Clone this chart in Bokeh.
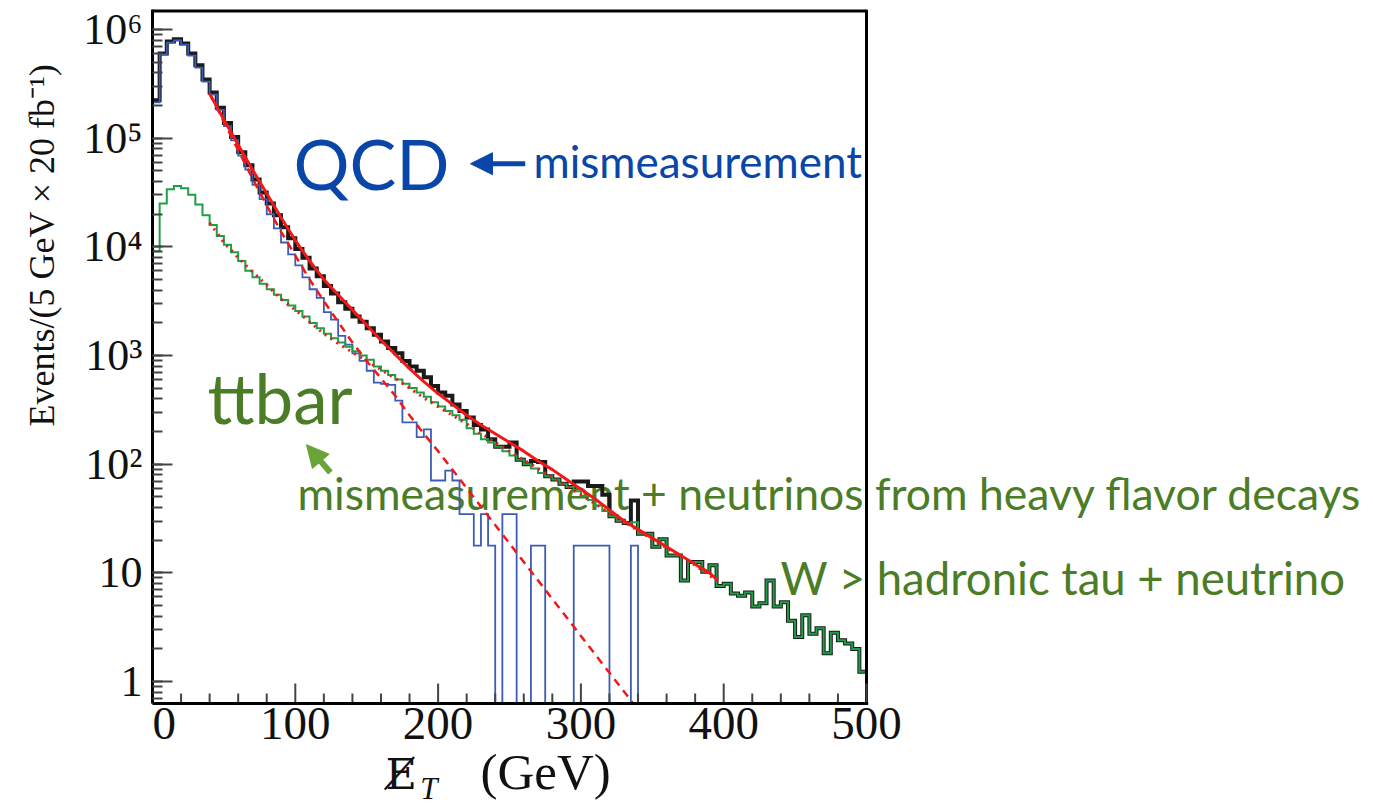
import numpy as np
from bokeh.plotting import figure
from bokeh.models import Range1d, LogTicker, Label, Arrow, NormalHead, Title
from bokeh.embed import file_html
from bokeh.resources import INLINE

# ---------------- data ----------------
BIN_WIDTH = 5  # GeV
edges = np.arange(0, 500 + BIN_WIDTH, BIN_WIDTH)

# log10(events per bin), 100 bins of 5 GeV
total_log10 = [
    5.35, 5.78, 5.89, 5.91, 5.87, 5.78, 5.67, 5.54, 5.42, 5.28,
    5.14, 5.01, 4.87, 4.75, 4.62, 4.50, 4.40, 4.29, 4.18, 4.08,
    3.98, 3.90, 3.80, 3.73, 3.64, 3.57, 3.49, 3.43, 3.36, 3.31,
    3.25, 3.19, 3.13, 3.07, 3.02, 2.95, 2.90, 2.86, 2.80, 2.72,
    2.66, 2.63, 2.55, 2.49, 2.43, 2.36, 2.32, 2.23, 2.16, 2.16,
    2.20, 2.04, 2.00, 2.03, 2.02, 1.89, 1.86, 1.82, 1.79, 1.84,
    1.84, 1.80, 1.80, 1.72, 1.52, 1.48, 1.46, 1.665, 1.36, 1.36,
    1.24, 1.31, 1.16, 1.16, 0.93, 1.10, 1.10, 1.01, 1.07, 0.88,
    0.90, 0.81, 0.79, 0.82, 0.69, 0.72, 0.93, 0.69, 0.73, 0.56,
    0.41, 0.61, 0.44, 0.49, 0.26, 0.45, 0.38, 0.35, 0.30, 0.09,
]

# QCD (blue); None = empty bin
qcd_log10 = [
    5.33, 5.77, 5.88, 5.90, 5.86, 5.76, 5.65, 5.52, 5.40, 5.26,
    5.11, 4.98, 4.84, 4.71, 4.57, 4.44, 4.30, 4.17, 4.04, 3.93,
    3.83, 3.72, 3.61, 3.53, 3.40, 3.33, 3.18, 3.10, 3.02, 2.95,
    2.86, 2.75, 2.74, 2.73, 2.585, 2.385, 2.385, 2.25, 2.32, 1.85,
    1.85, 1.94, 1.85, 1.54, 1.54, 1.25, 1.54, 1.25, None, 1.54,
    1.54, None, None, 1.25, 1.25, None, None, None, None, 1.25,
    1.25, 1.25, 1.25, 1.25, None, None, None, 1.25, None, None,
    None, None, None, None, None, None, None, None, None, None,
    None, None, None, None, None, None, None, None, None, None,
    None, None, None, None, None, None, None, None, None, None,
]

# ttbar + W (green)
ttbar_log10 = [
    3.96, 4.40, 4.53, 4.56, 4.54, 4.48, 4.39, 4.29, 4.20, 4.10,
    4.02, 3.95, 3.87, 3.78, 3.72, 3.66, 3.61, 3.56, 3.51, 3.46,
    3.41, 3.36, 3.30, 3.25, 3.20, 3.16, 3.12, 3.08, 3.04, 3.00,
    2.96, 2.90, 2.86, 2.82, 2.78, 2.74, 2.70, 2.66, 2.62, 2.57,
    2.53, 2.49, 2.45, 2.41, 2.33, 2.28, 2.23, 2.20, 2.16, 2.12,
    2.08, 2.04, 2.00, 1.96, 1.92, 1.89, 1.86, 1.82, 1.79, 1.75,
    1.71, 1.67, 1.62, 1.57, 1.52, 1.48, 1.46, 1.466, 1.36, 1.36,
    1.24, 1.31, 1.16, 1.16, 0.93, 1.10, 1.10, 1.01, 1.07, 0.88,
    0.90, 0.81, 0.79, 0.82, 0.69, 0.72, 0.93, 0.69, 0.73, 0.56,
    0.41, 0.61, 0.44, 0.49, 0.26, 0.45, 0.38, 0.35, 0.30, 0.09,
]

# fitted curves (ET in GeV, log10 events)
fit_total_et = [40, 50, 60, 70, 80, 90, 100, 110, 120, 130, 140, 150, 160, 170, 180,
                190, 200, 210, 220, 230, 240, 250, 260, 270, 280, 290, 300, 310, 320,
                330, 340, 350, 360, 370, 380, 390, 396]
fit_total_log10 = [5.41, 5.17, 4.94, 4.71, 4.49, 4.27, 4.06, 3.87, 3.70, 3.56, 3.42, 3.28,
                   3.14, 3.01, 2.88, 2.76, 2.65, 2.55, 2.45, 2.36, 2.28, 2.20, 2.12, 2.03,
                   1.95, 1.86, 1.77, 1.68, 1.58, 1.48, 1.40, 1.32, 1.24, 1.16, 1.08, 1.00, 0.93]

fit_qcd_et = [40, 50, 60, 70, 80, 90, 100, 110, 120, 130, 140, 150, 160, 170, 180, 190,
              200, 220, 240, 260, 280, 300, 320, 336]
fit_qcd_log10 = [5.41, 5.15, 4.89, 4.63, 4.38, 4.14, 3.92, 3.70, 3.50, 3.31, 3.12, 2.95,
                 2.79, 2.63, 2.45, 2.28, 2.12, 1.78, 1.44, 1.10, 0.76, 0.42, 0.08, -0.19]

fit_tt_et = [40, 50, 60, 70, 80, 90, 100, 110, 120, 130, 140, 150, 160, 170, 180, 190,
             200, 220, 240, 260, 280, 300, 320, 340, 360, 380, 395]
fit_tt_log10 = [4.22, 4.04, 3.90, 3.77, 3.65, 3.52, 3.42, 3.31, 3.20, 3.11, 3.03, 2.95,
                2.87, 2.79, 2.70, 2.61, 2.53, 2.37, 2.20, 2.04, 1.88, 1.72, 1.55, 1.39,
                1.23, 1.07, 0.93]

x_tick_values = [0, 100, 200, 300, 400, 500]
x_tick_labels = ["0", "100", "200", "300", "400", "500"]
x_minor_values = [20, 40, 60, 80, 120, 140, 160, 180, 220, 240, 260, 280,
                  320, 340, 360, 380, 420, 440, 460, 480]
y_tick_values = [1, 10, 100, 1000, 10000, 100000, 1000000]
y_tick_labels = ["1", "10", "10²", "10³", "10⁴", "10⁵", "10⁶"]

# ---------------- geometry ----------------
X_MIN, X_MAX = 0, 500                       # histogram box
X_VIEW_MAX = 500 * (1373 - 152) / 714       # frame runs to the right edge (long texts)
Y_BOX_MIN, Y_MAX = 10 ** -0.202, 10 ** 6.184
DECADE_PX = 694 / (6.184 + 0.202)           # pixels per decade
Y_VIEW_MIN = Y_BOX_MIN / 10 ** (103 / DECADE_PX)  # frame runs to the bottom edge


def below(px):
    """y value px pixels below the box bottom"""
    return Y_BOX_MIN / 10 ** (px / DECADE_PX)


def above(px):
    return Y_BOX_MIN * 10 ** (px / DECADE_PX)


p = figure(width=1373, height=806, y_axis_type="log", x_axis_location=None,
           x_range=Range1d(X_MIN, X_VIEW_MAX), y_range=Range1d(Y_VIEW_MIN, Y_MAX),
           output_backend="svg", toolbar_location=None,
           min_border_left=152, min_border_right=0, min_border_top=9, min_border_bottom=0)
p.background_fill_color = "white"
p.border_fill_color = "white"
p.grid.visible = False
p.outline_line_color = None

ax = p.yaxis[0]
ax.ticker = LogTicker(num_minor_ticks=10)
ax.bounds = (Y_BOX_MIN, Y_MAX)
ax.axis_line_width = 3
ax.axis_line_color = "black"
ax.major_tick_in = 20
ax.major_tick_out = 0
ax.minor_tick_in = 10
ax.minor_tick_out = 0
ax.major_tick_line_color = "#444444"
ax.minor_tick_line_color = "#444444"
ax.major_tick_line_width = 2
ax.minor_tick_line_width = 2
ax.major_label_text_font = "Liberation Serif"
ax.major_label_text_color = "#111111"
ax.major_label_text_font_size = "44px"
ax.major_label_standoff = 10
ax.major_label_overrides = dict(zip(y_tick_values, y_tick_labels))

p.add_layout(Title(text="Events/(5 GeV × 20 fb⁻¹)", align="right", offset=54, standoff=38,
                   text_font="Liberation Serif", text_font_style="normal",
                   text_font_size="36px", text_color="#111111"), "left")


def to_vals(logs):
    arr = np.array([np.nan if v is None else v for v in logs], dtype=float)
    vals = np.where(np.isnan(arr), Y_BOX_MIN, 10 ** arr)  # empty bins drop to the axis
    return np.append(vals, vals[-1])


p.step(edges, to_vals(total_log10), mode="after", line_color="#1a1a1a", line_width=4, line_join="miter")
p.step(edges, to_vals(qcd_log10), mode="after", line_color="#3b5db5", line_width=1.8, line_join="miter")
p.step(edges, to_vals(ttbar_log10), mode="after", line_color="#1f9e45", line_width=2, line_join="miter")

p.line(fit_total_et, 10 ** np.array(fit_total_log10), line_color="#f21818", line_width=3)
p.line(fit_qcd_et, 10 ** np.array(fit_qcd_log10), line_color="#f21818", line_width=2.5, line_dash="8 6")
p.line(fit_tt_et, 10 ** np.array(fit_tt_log10), line_color="#f21818", line_width=3, line_dash="2 5")

# ---------------- box and x axis ----------------
p.segment(x0=X_MIN, y0=Y_MAX, x1=X_MAX, y1=Y_MAX, line_color="black", line_width=6)
p.segment(x0=X_MAX, y0=Y_BOX_MIN, x1=X_MAX, y1=Y_MAX, line_color="black", line_width=3)
p.segment(x0=x_tick_values, y0=[Y_BOX_MIN] * len(x_tick_values),
          x1=x_tick_values, y1=[above(20)] * len(x_tick_values),
          line_color="#444444", line_width=2)
p.segment(x0=x_minor_values, y0=[Y_BOX_MIN] * len(x_minor_values),
          x1=x_minor_values, y1=[above(10)] * len(x_minor_values),
          line_color="#444444", line_width=2)
p.segment(x0=X_MIN - 1.2, y0=Y_BOX_MIN, x1=X_MAX + 1.2, y1=Y_BOX_MIN, line_color="black", line_width=3)

for v, t in zip(x_tick_values, x_tick_labels):
    # the frame starts at x = 0, so the first label is left-aligned to stay visible
    p.add_layout(Label(x=v, y=below(4), text=t, text_align="left" if v == X_MIN else "center",
                       text_baseline="top", text_font="Liberation Serif", text_font_size="47px",
                       text_color="#111111"))

# x title: E-slash with subscript T, then (GeV)
p.add_layout(Label(x=163.2, y=below(70), text="E\u0338", text_font="DejaVu Serif",
                   text_font_style="normal", text_font_size="43px", text_color="#111111",
                   text_baseline="alphabetic"))
p.add_layout(Label(x=187.5, y=below(85), text="T", text_font="Liberation Serif",
                   text_font_style="italic", text_font_size="31px", text_color="#111111",
                   text_baseline="alphabetic"))
p.add_layout(Label(x=229.7, y=below(68), text="(GeV)", text_font="Liberation Serif",
                   text_font_size="51px", text_color="#111111", text_baseline="alphabetic"))

# ---------------- annotations ----------------
BLUE = "#0a46a8"
GREEN = "#4b7c26"
SANS = "Lato"

p.add_layout(Label(x=98.7, y=10 ** 4.775, text="QCD", text_font=SANS, text_font_size="70px",
                   text_color=BLUE, text_baseline="alphabetic", level="underlay"))
p.add_layout(Arrow(end=NormalHead(size=22, fill_color=BLUE, line_color=BLUE),
                   x_start=261, y_start=10 ** 4.765, x_end=222.7, y_end=10 ** 4.765,
                   line_color=BLUE, line_width=5))
p.add_layout(Label(x=266.8, y=10 ** 4.793, text="mismeasurement", text_font=SANS,
                   text_font_size="44px", text_color=BLUE, text_baseline="alphabetic", level="underlay"))
p.add_layout(Label(x=38.5, y=10 ** 2.613, text="ttbar", text_font=SANS, text_font_size="69px",
                   text_color=GREEN, text_baseline="alphabetic", level="underlay"))
p.add_layout(Arrow(end=NormalHead(size=22, fill_color="#6aa436", line_color="#6aa436"),
                   x_start=124.6, y_start=10 ** 1.923, x_end=107.8, y_end=10 ** 2.18,
                   line_color="#6aa436", line_width=6))
p.add_layout(Label(x=101.5, y=10 ** 1.737, text="mismeasurement + neutrinos from heavy flavor decays",
                   text_font=SANS, text_font_size="44.5px", text_color=GREEN,
                   text_baseline="alphabetic", level="underlay"))
p.add_layout(Label(x=439.8, y=10 ** 0.959, text="W > hadronic tau + neutrino",
                   text_font=SANS, text_font_size="45.5px", text_color=GREEN,
                   text_baseline="alphabetic", level="underlay"))

open("out.html", "w").write(file_html(p, INLINE))
